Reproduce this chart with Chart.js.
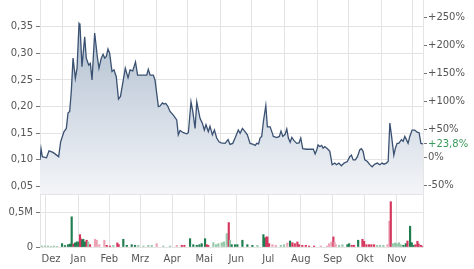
<!DOCTYPE html>
<html><head><meta charset="utf-8">
<script src="https://cdn.jsdelivr.net/npm/chart.js@4.4.1/dist/chart.umd.min.js"></script>
<style>html,body{margin:0;padding:0;background:#fff;overflow:hidden;width:474px;height:269px}
canvas{position:absolute;left:0}
#a{top:0}#b{top:195px}</style>
</head><body>
<canvas id="a" width="474" height="195"></canvas>
<canvas id="b" width="474" height="74"></canvas>
<script>
// ---- data (x = days since start of the 1-year window) ----
const priceDays = [0,1,2.2,6.2,8.6,12.4,16.5,17.8,19.7,22.9,25.1,26.7,28.3,29.8,31.5,33.7,35.3,37.2,38.1,40,42.6,44.1,46.4,48,49.6,52.1,54.6,56.2,58.4,60.1,61.7,63.2,64.8,66.4,68.6,70.5,72.7,74.8,76.7,79.1,81.3,83.9,85.8,88.4,91,93,101.7,103.2,104.9,108,109.6,112.8,114.4,116.6,118.2,119.8,121.7,123.9,127.1,130.3,131.8,133.5,136.6,139.9,141.4,143.9,145.6,147.8,149.4,150.9,152.5,154.7,156.6,158.2,160.4,162,164.3,166.2,168.4,170.6,172.5,176.4,179.2,181.1,183.7,185.9,189,190.7,192.9,195.4,197.6,200.2,203.3,205,206.6,208.3,209.7,211.3,212.9,215.2,216.7,219.3,220.9,222.4,225.7,228.1,229.7,231.4,233.6,235.2,236.7,238.4,240,242.1,244.7,246.9,248.5,250.4,254.2,257.4,260.5,262.2,263.8,265,266.7,268.4,269.8,271.4,273.9,276.2,278.4,280.9,282.5,284.8,287.2,289.8,292.9,295.2,296.8,298.4,300.6,302.5,304.8,306.3,307.9,309.5,312,314.3,316.5,319.1,321.5,323.8,326,327.9,330.1,331.8,333.4,334.9,337.2,338.7,340.3,341.9,344.4,346,347.7,349.2,350.8,352.4,354.6,357.2,359.4,361.3,363,365];
const prices = [0.100,0.121,0.106,0.104,0.117,0.114,0.108,0.106,0.134,0.153,0.159,0.188,0.191,0.228,0.291,0.253,0.272,0.356,0.353,0.275,0.331,0.291,0.278,0.281,0.250,0.338,0.294,0.272,0.291,0.298,0.291,0.294,0.308,0.300,0.266,0.269,0.256,0.214,0.219,0.247,0.272,0.254,0.269,0.267,0.284,0.259,0.259,0.270,0.259,0.259,0.250,0.200,0.201,0.207,0.205,0.206,0.201,0.191,0.184,0.175,0.147,0.155,0.151,0.149,0.151,0.209,0.191,0.159,0.209,0.194,0.178,0.169,0.156,0.166,0.153,0.163,0.147,0.156,0.141,0.134,0.132,0.131,0.138,0.129,0.131,0.141,0.156,0.150,0.159,0.153,0.147,0.131,0.129,0.127,0.131,0.130,0.141,0.144,0.172,0.202,0.162,0.162,0.153,0.144,0.142,0.144,0.154,0.144,0.148,0.158,0.141,0.133,0.142,0.136,0.131,0.132,0.141,0.121,0.120,0.120,0.120,0.111,0.119,0.128,0.125,0.127,0.122,0.125,0.121,0.116,0.091,0.094,0.091,0.094,0.089,0.094,0.097,0.106,0.109,0.100,0.100,0.106,0.119,0.121,0.116,0.100,0.097,0.091,0.087,0.092,0.094,0.091,0.094,0.092,0.094,0.097,0.169,0.147,0.109,0.122,0.131,0.131,0.138,0.135,0.144,0.138,0.131,0.144,0.156,0.156,0.152,0.151,0.131,0.130];

const volDays = [1.9,4.8,7.6,10.5,13.3,16.2,21,23.8,26.7,28.6,30.2,31.9,33.4,35,36.7,38.1,39.1,40.3,41.3,42.9,44.5,46,47.7,52.4,54.1,56.5,61.3,63.6,66.7,69.9,73.7,75,79.4,82.7,87.4,90.6,93.7,98.5,103.2,106.5,111.2,117.5,123.9,130.3,135.1,137.6,143,146.1,149.4,151.9,154.1,157.3,158.9,160.4,165.2,167.8,170,173.2,175.4,178,179.9,181.1,182.7,185.9,188.1,192.9,197.6,202.4,207.2,212.9,214.2,215.7,216.7,218.3,221.5,224.7,229.5,232.6,235.7,238.3,240.5,242.8,245.3,246.9,250,253.3,256.4,261.2,267.6,273.6,275.5,277.7,279.6,280.7,281.9,285,288.2,292.9,294.6,297.1,299.3,303.2,307.3,308.9,311.1,313.6,315.8,318.4,321.3,324.1,327.3,331.1,333,334.3,336.2,338.4,340,342.2,343.9,346.3,348.6,350.2,352.7,354.3,355.9,357.8,359.7,360.8,362.9,364.2];
const volumesM = [0.015,0.015,0.015,0.010,0.015,0.010,0.049,0.022,0.034,0.044,0.441,0.044,0.059,0.074,0.074,0.181,0.118,0.099,0.113,0.074,0.099,0.074,0.034,0.113,0.099,0.034,0.099,0.025,0.015,0.025,0.059,0.034,0.113,0.025,0.034,0.025,0.025,0.015,0.025,0.025,0.049,0.015,0.015,0.025,0.025,0.025,0.122,0.034,0.025,0.034,0.049,0.122,0.034,0.025,0.063,0.034,0.049,0.063,0.074,0.196,0.357,0.099,0.034,0.034,0.034,0.099,0.034,0.025,0.025,0.181,0.132,0.147,0.147,0.049,0.034,0.025,0.025,0.034,0.059,0.088,0.063,0.049,0.074,0.034,0.025,0.025,0.015,0.015,0.015,0.015,0.049,0.074,0.147,0.074,0.034,0.025,0.034,0.034,0.049,0.025,0.025,0.099,0.113,0.084,0.034,0.034,0.034,0.034,0.025,0.025,0.025,0.034,0.378,0.662,0.049,0.059,0.049,0.063,0.034,0.025,0.049,0.088,0.304,0.063,0.025,0.034,0.084,0.044,0.025,0.015];
// G = up (main), R = down (main), g = up (other), r = down (other)
const volKinds = ("gggggg"+"GGGGG"+"R"+"GGG"+"RR"+"GGG"+"R"+"g"+"R"+"rrrr"+"RR"+"g"+"RR"+"GGGG"+"gggg"+"r"+"gg"+"r"+"RR"+"GGGGGG"+"RR"+"gggggg"+"R"+"g"+"GGGGGG"+"g"+"GG"+"RRR"+"rr"+"gg"+"r"+"G"+"RRRRRRRR"+"rrrr"+"R"+"rr"+"gg"+"GG"+"RR"+"G"+"RRRRRR"+"ggg"+"r"+"r"+"R"+"ggggg"+"GG"+"R"+"GGG"+"RRRRR").split('');

const monthStarts = [21,52,80,111,141,172,202,233,264,294,325,355];
const monthMids = [10.5,36.5,66,95.5,126,156.5,187,217.5,248.5,279,309.5,340];
const monthNames = ['Dez','Jan','Feb','Mrz','Apr','Mai','Jun','Jul','Aug','Sep','Okt','Nov'];
const priceTicks = [0.05,0.10,0.15,0.20,0.25,0.30,0.35];
const pctTicks = [2.5,2.0,1.5,1.0,0.5,0,-0.5];
const basePrice = 0.105;
const lastChange = 0.238;
const volTicks = [0,0.5];

// ---- styling ----
Chart.defaults.font.family = "'DejaVu Sans', sans-serif";
Chart.defaults.font.size = 10;
Chart.defaults.color = '#555';
const GRID = '#e4e4e4', TICK = '#777';
const PMIN = 0.036, PMAX = 0.40, DAYMAX = 365, VMAX = 0.76;
const KCOL = {G:'#1f7d4f', R:'#d5365d', g:'#93c7a8', r:'#eba3b5'};
const noPad = s => { s.paddingTop = 0; s.paddingBottom = 0; s.paddingLeft = 0; s.paddingRight = 0; };
const setTicks = arr => s => { s.ticks = arr.map(v => ({value:v})); };
const fmtPct = v => (v > 0 ? '+' : '') + String(Math.round(v*1000)/10).replace('.', ',') + '%';

new Chart(document.getElementById('a'), {
  type: 'line',
  data: { datasets: [{
    data: priceDays.map((d,i) => ({x:d, y:prices[i]})),
    borderColor: '#3a5172', borderWidth: 1.3, pointRadius: 0, tension: 0,
    fill: 'start',
    backgroundColor: (c) => {
      const a = c.chart.chartArea; if (!a) return '#c8d2de';
      const g = c.chart.ctx.createLinearGradient(0, a.top, 0, a.bottom);
      g.addColorStop(0, '#a7b7ca'); g.addColorStop(1, '#f3f5f8'); return g;
    }
  }]},
  options: {
    responsive: false, animation: false, events: [],
    layout: { padding: { top: 0, bottom: 1, left: 0, right: 0 } },
    plugins: { legend: {display:false}, tooltip: {enabled:false} },
    scales: {
      x: { type:'linear', min:0, max:DAYMAX, afterBuildTicks: setTicks(monthStarts),
           ticks:{display:false}, grid:{color:GRID, drawTicks:false},
           border:{display:true, color:GRID}, afterFit: s => { s.height = 0; noPad(s); } },
      y: { position:'left', min:PMIN, max:PMAX, afterBuildTicks: setTicks(priceTicks),
           ticks:{ callback: v => v.toFixed(2).replace('.', ','), padding:3 },
           grid:{color:GRID, tickColor:TICK, tickLength:4},
           border:{color:GRID}, afterFit: s => { s.width = 40; noPad(s); } },
      y2: { position:'right', min:PMIN/basePrice - 1, max:PMAX/basePrice - 1,
           afterBuildTicks: setTicks([...pctTicks, lastChange]),
           ticks:{ callback: v => fmtPct(v), padding:1,
                   color: c => (c.tick && c.tick.value === lastChange) ? '#3a9a5b' : '#555' },
           grid:{drawOnChartArea:false, tickColor:TICK, tickLength:4},
           border:{color:GRID}, afterFit: s => { s.width = 51; noPad(s); } }
    }
  }
});

new Chart(document.getElementById('b'), {
  type: 'bar',
  data: { datasets: [{
    data: volDays.map((d,i) => ({x:d, y:volumesM[i]})),
    backgroundColor: volKinds.map(k => KCOL[k]),
    barThickness: 1.5, borderWidth: 0
  }]},
  options: {
    responsive: false, animation: false, events: [],
    layout: { padding: 0 },
    plugins: { legend: {display:false}, tooltip: {enabled:false} },
    scales: {
      x: { type:'linear', min:0, max:DAYMAX, offset:false, afterBuildTicks: setTicks(monthStarts),
           ticks:{display:false}, grid:{color:GRID, drawTicks:false},
           border:{display:false}, afterFit: s => { s.height = 0; noPad(s); } },
      xl: { type:'linear', position:'bottom', min:0, max:DAYMAX, offset:false,
           afterBuildTicks: setTicks(monthMids),
           ticks:{ callback: (v,i) => monthNames[i], padding:6, maxRotation:0, autoSkip:false },
           grid:{display:false, drawTicks:false}, border:{display:false},
           afterFit: s => { s.height = 22; noPad(s); } },
      y: { position:'left', min:0, max:VMAX, afterBuildTicks: setTicks(volTicks),
           ticks:{ callback: v => v === 0 ? '0' : String(v).replace('.', ',') + 'M', padding:3 },
           grid:{color:GRID, tickColor:TICK, tickLength:4},
           border:{color:GRID}, afterFit: s => { s.width = 40; noPad(s); } },
      y2: { position:'right', min:0, max:VMAX, ticks:{display:false},
           grid:{drawOnChartArea:false, drawTicks:false},
           border:{color:GRID}, afterFit: s => { s.width = 51; noPad(s); } }
    }
  }
});
</script>
</body></html>
